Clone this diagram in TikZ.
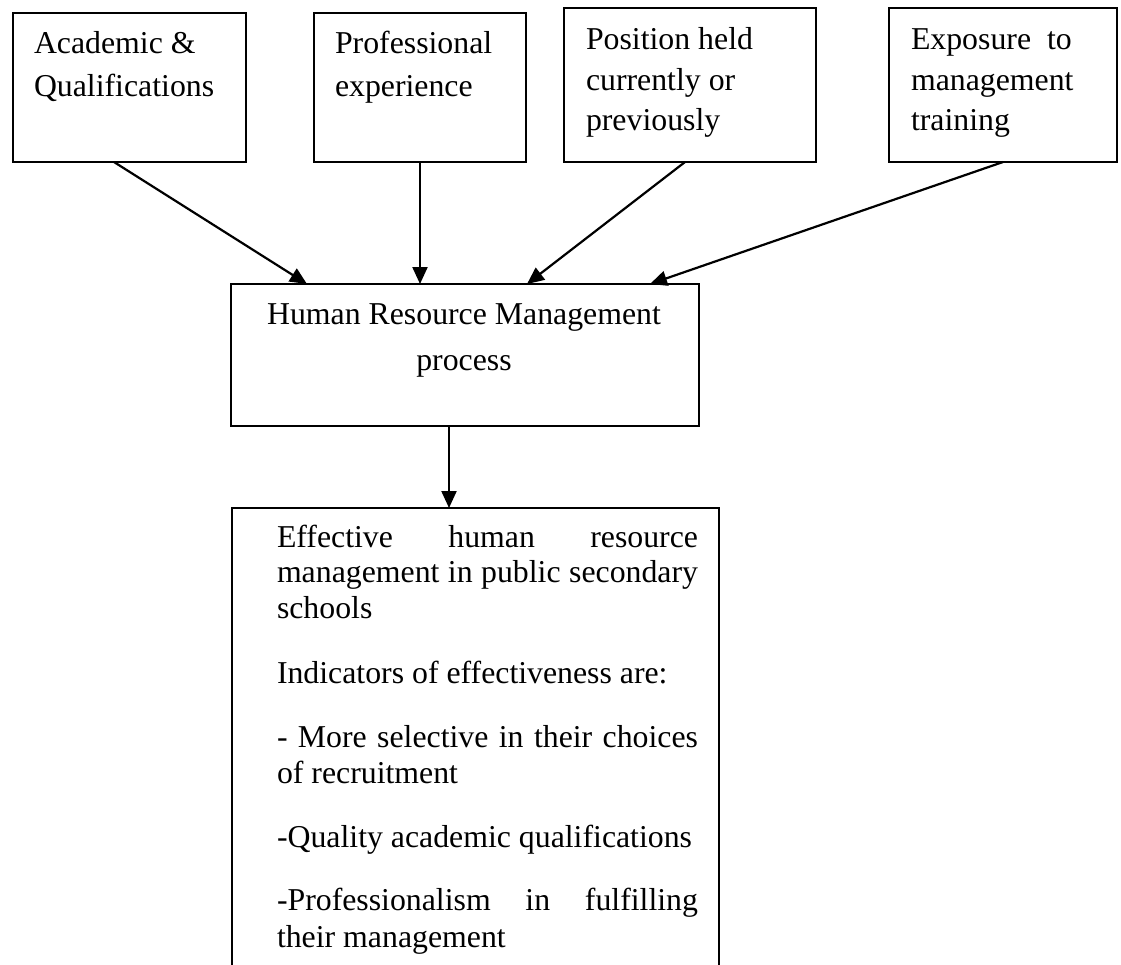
\documentclass[tikz,border=0pt]{standalone}
\usepackage{fontspec}
\setmainfont{Liberation Serif}
\usetikzlibrary{arrows.meta}
\begin{document}
\begin{tikzpicture}[x=1pt,y=-1pt,
  box/.style={draw, line width=2.2pt, inner sep=0pt, outer sep=0pt, anchor=north west},
  area/.style={inner sep=0pt, outer sep=0pt, anchor=north west},
  txt/.style={inner sep=0pt, outer sep=0pt, anchor=base west, font=\fontsize{31.8pt}{36pt}\selectfont},
  ctxt/.style={txt, anchor=base},
  edge/.style={line width=2.2pt},
  arr/.style={line width=2.2pt, -{Triangle[length=17pt,width=15pt]}}]
\useasboundingbox (0,0) rectangle (1121,964);
\fill[white] (0,0) rectangle (1121,964);

% top boxes
\node[box, minimum width=233pt, minimum height=149pt] (b1) at (13,13) {};
\node[box, minimum width=212pt, minimum height=149pt] (b2) at (314,13) {};
\node[box, minimum width=252pt, minimum height=154pt] (b3) at (564,8) {};
\node[box, minimum width=228pt, minimum height=154pt] (b4) at (889,8) {};

\node[txt] (t1a) at (34,53) {Academic \&};
\node[txt] (t1b) at (34,96) {Qualifications};
\node[txt] (t2a) at (335,53) {Professional};
\node[txt] (t2b) at (335,96) {experience};
\node[txt] (t3a) at (586,49) {Position held};
\node[txt] (t3b) at (586,90) {currently or};
\node[txt] (t3c) at (586,130) {previously};
\node[txt] (t4a) at (911,49) {Exposure\ \ to};
\node[txt] (t4b) at (911,90) {management};
\node[txt] (t4c) at (911,130) {training};

% middle box
\node[box, minimum width=468pt, minimum height=142pt] (hrm) at (231,284) {};
\node[ctxt] (th1) at (464,324) {Human Resource Management};
\node[ctxt] (th2) at (464,370) {process};

% bottom box (open at the bottom)
\node[area, minimum width=487pt, minimum height=462pt] (res) at (232,508) {};
\draw[edge] (res.south west) -- (res.north west) -- (res.north east) -- (res.south east);

\node[txt] (r1) at (277,547) {\makebox[421pt][s]{Effective human resource}};
\node[txt] (r2) at (277,582) {\makebox[421pt][s]{management in public secondary}};
\node[txt] (r3) at (277,618) {schools};
\node[txt] (r4) at (277,683) {Indicators of effectiveness are:};
\node[txt] (r5) at (277,747) {\makebox[421pt][s]{- More selective in their choices}};
\node[txt] (r6) at (277,783) {of recruitment};
\node[txt] (r7) at (277,847) {-Quality academic qualifications};
\node[txt] (r8) at (277,910) {\makebox[421pt][s]{-Professionalism in fulfilling}};
\node[txt] (r9) at (277,947) {their management};

% connectors
\draw[arr] ([xshift=-15.5pt]b1.south) -- ([xshift=-158pt]hrm.north);
\draw[arr] (b2.south) -- (b2.south |- hrm.north);
\draw[arr] ([xshift=-5pt]b3.south) -- ([xshift=62pt]hrm.north);
\draw[arr] (b4.south) -- ([xshift=185pt]hrm.north);
\draw[arr] ([xshift=-16pt]hrm.south) -- ([xshift=-16pt]hrm.south |- res.north);
\end{tikzpicture}
\end{document}
